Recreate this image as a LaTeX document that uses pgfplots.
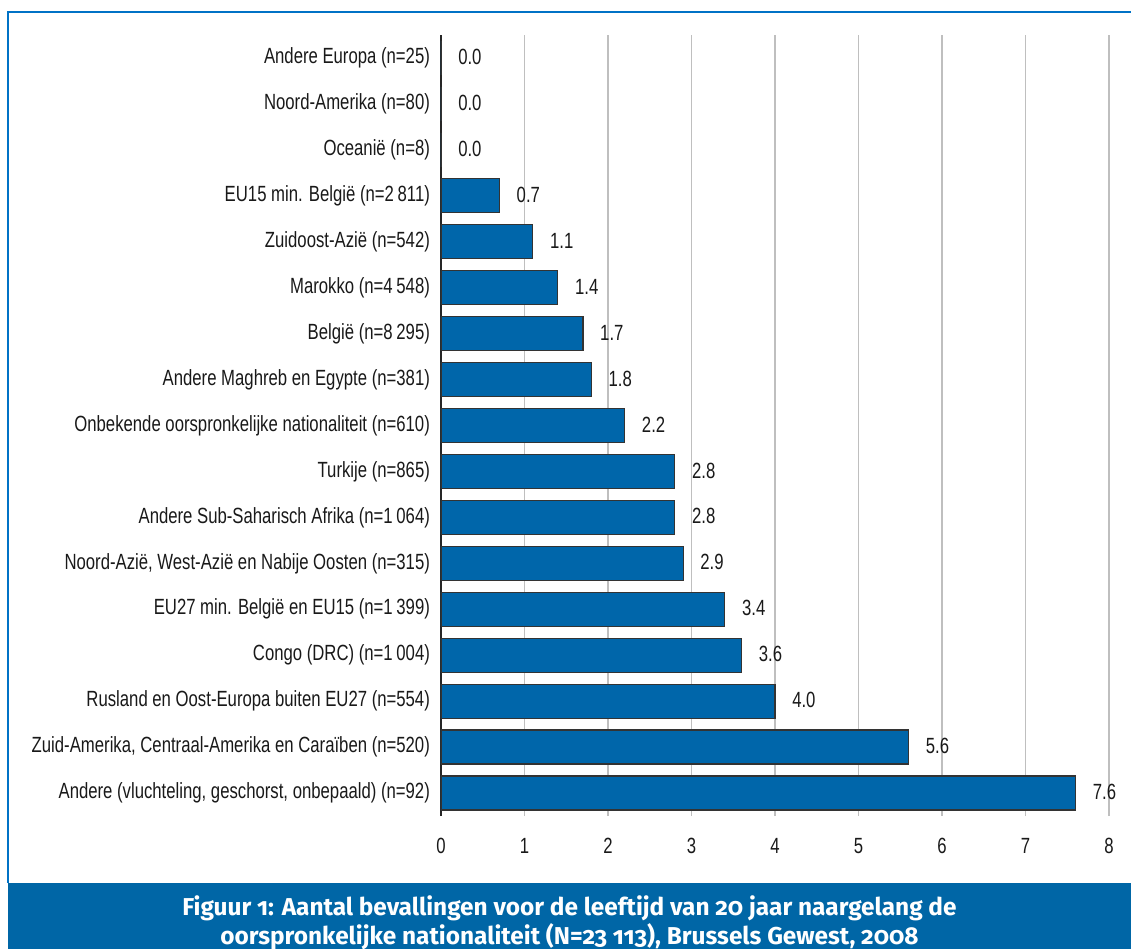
\documentclass[border=0pt]{standalone}
\usepackage{fontspec}
\setmainfont{Liberation Sans}[FakeStretch=0.76]
\newfontfamily\titlefont[Numbers=OldStyle]{Fira Sans}
\usepackage{pgfplots}
\pgfplotsset{compat=1.18}
\definecolor{barblue}{RGB}{0,102,170}
\definecolor{bannerblue}{RGB}{0,102,166}
\definecolor{frameblue}{RGB}{0,114,198}
\begin{document}
\begin{tikzpicture}[x=1pt,y=1pt]
\useasboundingbox (0,0) rectangle (565.5,474.5);
\fill[bannerblue] (4,0) rectangle (565.5,33);
\draw[frameblue, line width=0.9pt] (4,33) -- (4,468.5) -- (565.5,468.5);
\begin{axis}[
  at={(220.5pt,66.5pt)}, anchor=south west,
  scale only axis, width=334pt, height=390.5pt,
  xbar, bar width=17pt,
  xmin=0, xmax=8, ymin=-0.5, ymax=16.5,
  xtick={0,...,8}, ytick={0,...,16},
  yticklabels={
    {Andere (vluchteling, geschorst, onbepaald) (n=92)},
    {Zuid-Amerika, Centraal-Amerika en Caraïben (n=520)},
    {Rusland en Oost-Europa buiten EU27 (n=554)},
    {Congo (DRC) (n=1\,004)},
    {EU27 min. België en EU15 (n=1\,399)},
    {Noord-Azië, West-Azië en Nabije Oosten (n=315)},
    {Andere Sub-Saharisch Afrika (n=1\,064)},
    {Turkije (n=865)},
    {Onbekende oorspronkelijke nationaliteit (n=610)},
    {Andere Maghreb en Egypte (n=381)},
    {België (n=8\,295)},
    {Marokko (n=4\,548)},
    {Zuidoost-Azië (n=542)},
    {EU15 min. België (n=2\,811)},
    {Oceanië (n=8)},
    {Noord-Amerika (n=80)},
    {Andere Europa (n=25)}},
  axis x line*=bottom, axis y line*=left,
  x axis line style={draw=none},
  y axis line style={black!85, line width=1.1pt},
  major tick length=0pt,
  xmajorgrids, grid style={black!25, line width=0.7pt},
  /pgf/number format/assume math mode=true,
  tick label style={font=\fontsize{11}{13}\selectfont, black!90},
  xticklabel style={yshift=-7.5pt},
  yticklabel style={xshift=-2pt},
  nodes near coords,
  point meta=x,
  every node near coord/.append style={font=\fontsize{11}{13}\selectfont, black!90, anchor=west, xshift=5pt, yshift=0.5pt,
    /pgf/number format/.cd, fixed, fixed zerofill, precision=1, assume math mode=true},
]
\addplot[fill=barblue, draw=black!80, line width=0.6pt] coordinates {
  (7.6,0) (5.6,1) (4.0,2) (3.6,3) (3.4,4) (2.9,5) (2.8,6) (2.8,7) (2.2,8)
  (1.8,9) (1.7,10) (1.4,11) (1.1,12) (0.7,13) (0.0,14) (0.0,15) (0.0,16)};
\end{axis}
\node[anchor=base, text=white, font=\titlefont\bfseries\fontsize{12.2}{14}\selectfont] at (284.75,17) {Figuur 1: Aantal bevallingen voor de leeftijd van 20 jaar naargelang de};
\node[anchor=base, text=white, font=\titlefont\bfseries\fontsize{12.2}{14}\selectfont] at (284.75,2) {oorspronkelijke nationaliteit (N=23 113), Brussels Gewest, 2008};
\end{tikzpicture}
\end{document}
